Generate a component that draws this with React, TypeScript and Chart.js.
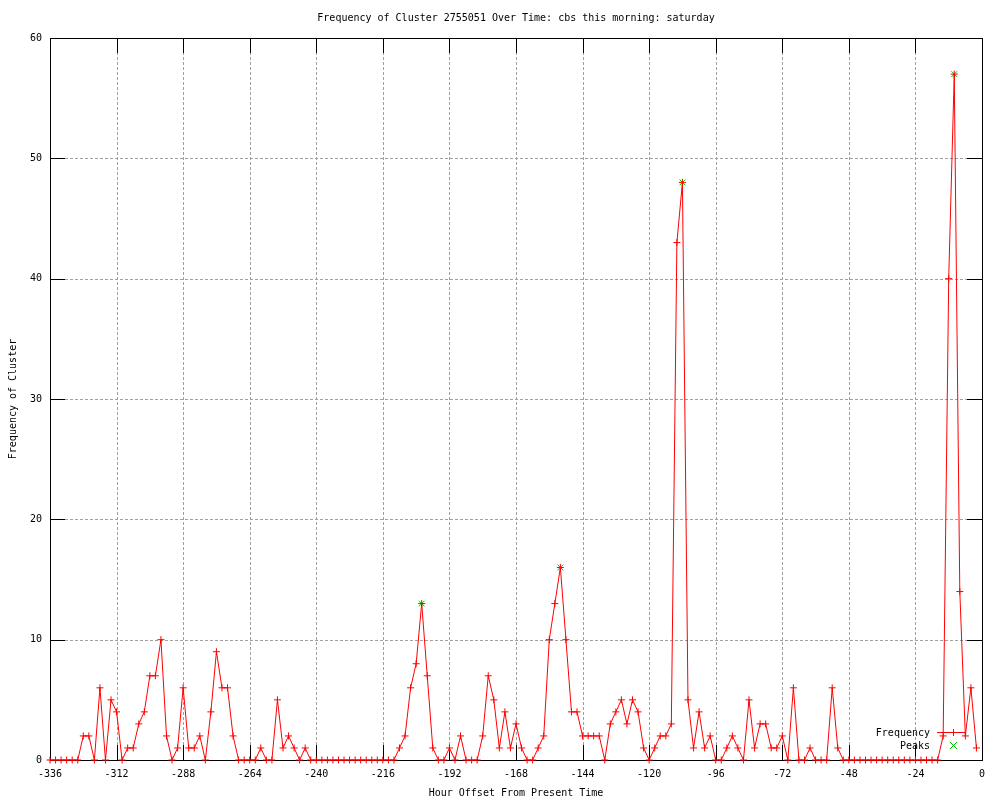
import React, { useEffect, useRef } from "react";
import { Chart, registerables } from "chart.js";

Chart.register(...registerables);

const TITLE = "Frequency of Cluster 2755051 Over Time: cbs this morning: saturday";
const X_TITLE = "Hour Offset From Present Time";
const Y_TITLE = "Frequency of Cluster";
const LEGEND_LABELS = ["Frequency", "Peaks"];

const HOUR_START = -336;
const HOUR_STEP = 2;

const FREQUENCY = [
  0, 0, 0, 0, 0, 0, 2, 2, 0, 6,
  0, 5, 4, 0, 1, 1, 3, 4, 7, 7,
  10, 2, 0, 1, 6, 1, 1, 2, 0, 4,
  9, 6, 6, 2, 0, 0, 0, 0, 1, 0,
  0, 5, 1, 2, 1, 0, 1, 0, 0, 0,
  0, 0, 0, 0, 0, 0, 0, 0, 0, 0,
  0, 0, 0, 1, 2, 6, 8, 13, 7, 1,
  0, 0, 1, 0, 2, 0, 0, 0, 2, 7,
  5, 1, 4, 1, 3, 1, 0, 0, 1, 2,
  10, 13, 16, 10, 4, 4, 2, 2, 2, 2,
  0, 3, 4, 5, 3, 5, 4, 1, 0, 1,
  2, 2, 3, 43, 48, 5, 1, 4, 1, 2,
  0, 0, 1, 2, 1, 0, 5, 1, 3, 3,
  1, 1, 2, 0, 6, 0, 0, 1, 0, 0,
  0, 6, 1, 0, 0, 0, 0, 0, 0, 0,
  0, 0, 0, 0, 0, 0, 0, 0, 0, 0,
  0, 2, 40, 57, 14, 2, 6, 1,
];

const PEAK_HOURS = [-202, -152, -108, -10];
const PEAK_VALUES = [13, 16, 48, 57];

const X_TICKS = [-336, -312, -288, -264, -240, -216, -192, -168, -144, -120, -96, -72, -48, -24, 0];
const Y_TICKS = [0, 10, 20, 30, 40, 50, 60];

const FONT_FAMILY = '"DejaVu Sans Mono", "Liberation Mono", monospace';
const FONT = "10px " + FONT_FAMILY;
const RED = "#ff0000";
const GREEN = "#00c000";
const TICK_LEN = 15;

const gnuplotFrame = {
  id: "gnuplotFrame",
  beforeDatasetsDraw(chart: any) {
    const { ctx, chartArea } = chart;
    const xs = chart.scales.x;
    const ys = chart.scales.y;
    const L = Math.round(chartArea.left);
    const R = Math.round(chartArea.right);
    const T = Math.round(chartArea.top);
    const B = Math.round(chartArea.bottom);
    ctx.save();
    ctx.lineWidth = 1;
    ctx.strokeStyle = "#a0a0a0";
    ctx.setLineDash([3, 2]);
    X_TICKS.forEach((v) => {
      const p = Math.round(xs.getPixelForValue(v));
      if (Math.abs(p - L) < 1 || Math.abs(p - R) < 1) return;
      ctx.beginPath();
      ctx.moveTo(p + 0.5, B - TICK_LEN);
      ctx.lineTo(p + 0.5, T + TICK_LEN);
      ctx.stroke();
    });
    Y_TICKS.forEach((v) => {
      const p = Math.round(ys.getPixelForValue(v));
      if (Math.abs(p - T) < 1 || Math.abs(p - B) < 1) return;
      ctx.beginPath();
      ctx.moveTo(L + TICK_LEN, p + 0.5);
      ctx.lineTo(R - TICK_LEN, p + 0.5);
      ctx.stroke();
    });
    ctx.setLineDash([]);
    ctx.fillStyle = "#000000";
    X_TICKS.forEach((v) => {
      const p = Math.round(xs.getPixelForValue(v));
      ctx.fillRect(p, B - TICK_LEN, 1, TICK_LEN);
      ctx.fillRect(p, T, 1, TICK_LEN);
    });
    Y_TICKS.forEach((v) => {
      const p = Math.round(ys.getPixelForValue(v));
      ctx.fillRect(L, p, TICK_LEN, 1);
      ctx.fillRect(R - TICK_LEN, p, TICK_LEN, 1);
    });
    ctx.fillRect(L, T, R - L + 1, 1);
    ctx.fillRect(L, B, R - L + 1, 1);
    ctx.fillRect(L, T, 1, B - T + 1);
    ctx.fillRect(R, T, 1, B - T + 1);
    ctx.font = FONT;
    ctx.textAlign = "center";
    ctx.textBaseline = "middle";
    const cx = (L + R) / 2;
    ctx.fillText(TITLE, cx, 18);
    ctx.fillText(X_TITLE, cx, 793);
    ctx.save();
    ctx.translate(13, (T + B) / 2);
    ctx.rotate(-Math.PI / 2);
    ctx.fillText(Y_TITLE, 0, 0);
    ctx.restore();
    ctx.restore();
  },
  afterDatasetsDraw(chart: any) {
    const { ctx, chartArea } = chart;
    const R = Math.round(chartArea.right);
    const B = Math.round(chartArea.bottom);
    const textX = R - 52;
    const y1 = B - 28;
    const y2 = B - 15;
    const sx1 = R - 45;
    const sx2 = R - 17;
    const mx = R - 29;
    ctx.save();
    ctx.font = FONT;
    ctx.fillStyle = "#000000";
    ctx.textAlign = "right";
    ctx.textBaseline = "middle";
    ctx.fillText(LEGEND_LABELS[0], textX, y1 + 1);
    ctx.fillText(LEGEND_LABELS[1], textX, y2 + 1);
    ctx.fillStyle = RED;
    ctx.fillRect(sx1, y1, sx2 - sx1, 1);
    ctx.fillRect(mx, y1 - 3, 1, 7);
    ctx.fillRect(mx - 3, y1, 7, 1);
    ctx.fillStyle = GREEN;
    for (let k = -3; k <= 3; k++) {
      ctx.fillRect(mx + k, y2 + k, 1, 1);
      ctx.fillRect(mx + k, y2 - k, 1, 1);
    }
    ctx.restore();
  },
};

export default function App() {
  const canvasRef = useRef<HTMLCanvasElement | null>(null);

  useEffect(() => {
    const canvas = canvasRef.current;
    if (!canvas) return;
    const freqPoints = FREQUENCY.map((v, i) => ({ x: HOUR_START + i * HOUR_STEP, y: v }));
    const peakPoints = PEAK_HOURS.map((h, i) => ({ x: h, y: PEAK_VALUES[i] }));
    const chart = new Chart(canvas, {
      type: "line",
      data: {
        datasets: [
          {
            label: LEGEND_LABELS[0],
            data: freqPoints,
            borderColor: RED,
            borderWidth: 1,
            tension: 0,
            pointStyle: "cross",
            pointRadius: 3.5,
            pointBorderWidth: 1,
            pointBorderColor: RED,
            pointBackgroundColor: RED,
            clip: false,
          },
          {
            label: LEGEND_LABELS[1],
            data: peakPoints,
            showLine: false,
            pointStyle: "crossRot",
            pointRadius: 4,
            pointBorderWidth: 1,
            pointBorderColor: GREEN,
            pointBackgroundColor: GREEN,
            borderColor: GREEN,
            clip: false,
          },
        ],
      },
      options: {
        responsive: false,
        animation: false,
        events: [],
        devicePixelRatio: 1,
        layout: { padding: { top: 38, right: 18, left: 0, bottom: 0 } },
        plugins: {
          legend: { display: false },
          tooltip: { enabled: false },
          title: { display: false },
        },
        scales: {
          x: {
            type: "linear",
            min: -336,
            max: 0,
            afterBuildTicks: (scale: any) => {
              scale.ticks = X_TICKS.map((v) => ({ value: v }));
            },
            afterFit: (scale: any) => {
              scale.height = 40;
            },
            grid: { display: false, drawTicks: false },
            border: { display: false },
            ticks: {
              color: "#000",
              font: { family: FONT_FAMILY, size: 10 },
              padding: 8,
              maxRotation: 0,
              autoSkip: false,
              callback: (v: any) => String(v),
            },
          },
          y: {
            type: "linear",
            min: 0,
            max: 60,
            afterBuildTicks: (scale: any) => {
              scale.ticks = Y_TICKS.map((v) => ({ value: v }));
            },
            afterFit: (scale: any) => {
              scale.width = 50;
            },
            grid: { display: false, drawTicks: false },
            border: { display: false },
            ticks: {
              color: "#000",
              font: { family: FONT_FAMILY, size: 10 },
              padding: 8,
              autoSkip: false,
              callback: (v: any) => String(v),
            },
          },
        },
      },
      plugins: [gnuplotFrame],
    });
    return () => chart.destroy();
  }, []);

  return (
    <div style={{ position: "fixed", left: 0, top: 0, width: 1000, height: 800, background: "#fff" }}>
      <canvas ref={canvasRef} width={1000} height={800} style={{ width: 1000, height: 800, display: "block" }} />
    </div>
  );
}
